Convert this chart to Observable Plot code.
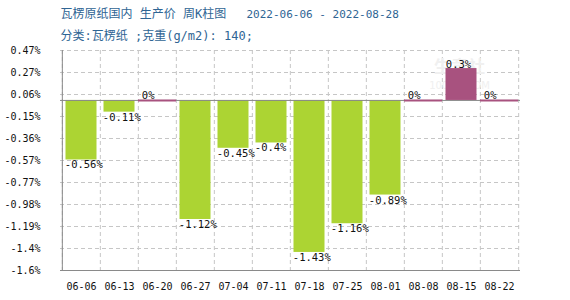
<!DOCTYPE html>
<html>
<head>
<meta charset="utf-8">
<script src="https://cdn.jsdelivr.net/npm/d3@7"></script>
<script src="https://cdn.jsdelivr.net/npm/@observablehq/plot@0.6"></script>
<style>
  html, body { margin: 0; padding: 0; background: #fff; }
</style>
</head>
<body>
<div id="chart"></div>
<script>
const titleText = "瓦楞原纸国内 生产价 周K柱图";
const titleDate = "2022-06-06 - 2022-08-28";
const subtitleText = "分类:瓦楞纸 ;克重(g/m2): 140;";
const watermarkText = ["生意社", "100PPI.COM"];
const categories = ["06-06","06-13","06-20","06-27","07-04","07-11","07-18","07-25","08-01","08-08","08-15","08-22"];
const values = [-0.56, -0.11, 0, -1.12, -0.45, -0.4, -1.43, -1.16, -0.89, 0, 0.3, 0];
const valueLabels = ["-0.56%","-0.11%","0%","-1.12%","-0.45%","-0.4%","-1.43%","-1.16%","-0.89%","0%","0.3%","0%"];
const yTicks = [0.47, 0.263, 0.056, -0.151, -0.358, -0.565, -0.772, -0.979, -1.186, -1.393, -1.6];
const yTickLabels = ["0.47%","0.27%","0.06%","-0.15%","-0.36%","-0.57%","-0.77%","-0.98%","-1.19%","-1.4%","-1.6%"];

const data = categories.map((c, i) => ({cat: c, value: values[i], label: valueLabels[i]}));
const neg = data.filter(d => d.value < 0);
const nonNeg = data.filter(d => d.value >= 0);
const pos = data.filter(d => d.value > 0);
const zero = data.filter(d => d.value === 0);

const W = 570, H = 300, ML = 60, MR = 50, MT = 50, MB = 30;
const step = (W - ML - MR) / categories.length;
const green = "#acd433", purple = "#a8527f";
const grid = "#c6c6c6", axisColor = "#8a8a8a";
const mono = "'DejaVu Sans Mono', 'Noto Sans CJK SC', monospace";
const cjk = "'Noto Sans CJK SC', sans-serif";

const chart = Plot.plot({
  width: W, height: H,
  marginLeft: ML, marginRight: MR, marginTop: MT, marginBottom: MB,
  style: {fontFamily: mono, fontSize: "10px", background: "#fff", color: "#111"},
  x: {domain: categories, padding: 0, label: null},
  y: {domain: [-1.6, 0.47], label: null},
  marks: [
    Plot.ruleY(yTicks, {stroke: grid, strokeDasharray: "4,3"}),
    Plot.ruleX(categories, {x: d => d, dx: -step / 2, stroke: grid, strokeDasharray: "4,3"}),
    Plot.ruleX([categories[categories.length - 1]], {x: d => d, dx: step / 2, stroke: grid, strokeDasharray: "4,3"}),
    Plot.text([watermarkText[0]], {x: () => "08-15", frameAnchor: "top", dy: 10, dx: -2, text: d => d, fontSize: 17, fontFamily: cjk, fill: "#f0f0f0", fontWeight: "bold", letterSpacing: 3}),
    Plot.text([watermarkText[1]], {x: () => "08-15", frameAnchor: "top", dy: 31, dx: -2, text: d => d, fontSize: 10, fontFamily: "'DejaVu Sans', sans-serif", fill: "#f0f0f0"}),
    Plot.barY(neg, {x: "cat", y: "value", fill: green, insetLeft: 3.5, insetRight: 3.5}),
    Plot.ruleY([0], {stroke: axisColor}),
    Plot.barY(pos, {x: "cat", y: "value", fill: purple, insetLeft: 3.5, insetRight: 3.5}),
    Plot.tickY(zero, {x: "cat", y: 0, stroke: purple, strokeWidth: 2}),
    Plot.ruleX([categories[0]], {x: d => d, dx: -step / 2, stroke: axisColor}),
    Plot.ruleY([-1.6], {stroke: axisColor}),
    Plot.axisY(yTicks, {tickSize: 0, tickPadding: 20, tickFormat: d => yTickLabels[yTicks.indexOf(d)], fill: "#111", fontSize: 10, label: null}),
    Plot.axisX({tickSize: 0, tickPadding: 12, fill: "#111", fontSize: 10, label: null}),
    Plot.text(neg, {x: "cat", y: "value", text: "label", textAnchor: "start", lineAnchor: "top", dx: -step / 2 + 2.5, dy: 1, fill: "#111", fontSize: 10.5}),
    Plot.text(nonNeg, {x: "cat", y: "value", text: "label", textAnchor: "start", lineAnchor: "bottom", dx: -step / 2 + 3.5, dy: -1, fill: "#111", fontSize: 10.5}),
    Plot.text([titleText], {frameAnchor: "top-left", text: d => d, dy: -36, textAnchor: "start", lineAnchor: "middle", fontSize: 12, fontFamily: mono, fill: "#2f6594"}),
    Plot.text([titleDate], {frameAnchor: "top-left", text: d => d, dx: 186, dy: -36, textAnchor: "start", lineAnchor: "middle", fontSize: 11, fontFamily: mono, fill: "#2f6594"}),
    Plot.text([subtitleText], {frameAnchor: "top-left", text: d => d, dy: -14.5, textAnchor: "start", lineAnchor: "middle", fontSize: 12, fontFamily: mono, fill: "#2f6594"})
  ]
});
document.getElementById("chart").appendChild(chart);
</script>
</body>
</html>
